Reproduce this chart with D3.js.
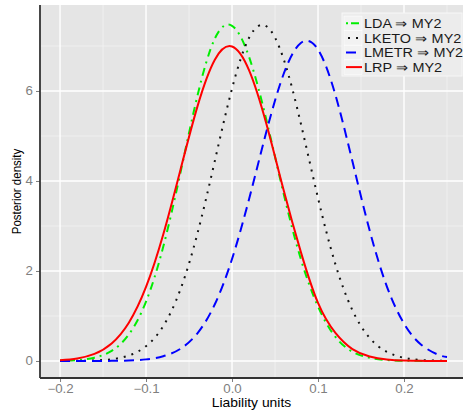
<!DOCTYPE html>
<html>
<head>
<meta charset="utf-8">
<script src="https://cdn.jsdelivr.net/npm/d3@7"></script>
<style>
  body { margin: 0; background: #fff; }
  svg { display: block; }
  text { font-family: "Liberation Sans", Arial, Helvetica, sans-serif; }
</style>
</head>
<body>
<svg id="chart" width="464" height="416"></svg>
<script>
// Posterior density evaluated on a common grid of liability values
const liability = [-0.20, -0.18, -0.16, -0.14, -0.12, -0.10, -0.08, -0.06, -0.04, -0.02,
                    0.00, 0.02, 0.04, 0.06, 0.08, 0.10, 0.12, 0.14, 0.16, 0.18,
                    0.20, 0.22, 0.24, 0.25];
const densityLDA   = [0.005, 0.021, 0.074, 0.225, 0.589, 1.320, 2.537, 4.182, 5.911, 7.164,
                      7.449, 6.746, 5.353, 3.721, 2.266, 1.209, 0.540, 0.205, 0.072, 0.022,
                      0.006, 0.002, 0.000, 0.000];
const densityLKETO = [0.001, 0.003, 0.011, 0.039, 0.121, 0.328, 0.774, 1.590, 2.848, 4.447,
                      6.055, 7.188, 7.438, 6.711, 5.279, 3.620, 2.164, 1.128, 0.513, 0.203,
                      0.070, 0.021, 0.006, 0.003];
const densityLMETR = [0.000, 0.000, 0.001, 0.003, 0.011, 0.036, 0.105, 0.271, 0.621, 1.260,
                      2.267, 3.611, 5.098, 6.377, 7.067, 6.921, 5.927, 4.437, 2.904, 1.660,
                      0.830, 0.362, 0.138, 0.090];
const densityLRP   = [0.018, 0.057, 0.158, 0.390, 0.851, 1.645, 2.811, 4.246, 5.670, 6.696,
                      6.990, 6.453, 5.266, 3.800, 2.425, 1.290, 0.630, 0.265, 0.100, 0.035,
                      0.011, 0.003, 0.001, 0.000];

const seriesNames = ["LDA \u21D2 MY2", "LKETO \u21D2 MY2", "LMETR \u21D2 MY2", "LRP \u21D2 MY2"];
const seriesValues = [densityLDA, densityLKETO, densityLMETR, densityLRP];

const xTicks = [-0.2, -0.1, 0.0, 0.1, 0.2];
const xMinor = [-0.15, -0.05, 0.05, 0.15, 0.25];
const yTicks = [0, 2, 4, 6];
const yMinor = [1, 3, 5, 7];

// Visual encodings per series
const colors = ["#00ee00", "#111111", "#0000ff", "#ff0000"];
const dashes = ["2,5,8,5", "2,6", "10,6", null];
const keyDashes = ["2,3,8,3", "2,6", "10,6", null];
const keyStart = [4, 6, 4, 4];

// Text is drawn slightly widened horizontally
const stretch = 1.11;

const svg = d3.select("#chart");
const panel = { left: 40, right: 463, top: 5, bottom: 378 };

const x = d3.scaleLinear().domain([-0.2233, 0.2686]).range([panel.left, panel.right]);
const y = d3.scaleLinear().domain([-0.378, 7.911]).range([panel.bottom, panel.top]);

// Panel background
svg.append("rect")
  .attr("x", panel.left).attr("y", panel.top)
  .attr("width", panel.right - panel.left).attr("height", panel.bottom - panel.top)
  .attr("fill", "#e5e5e5");

// Grid lines: minor first, then major
const grid = svg.append("g");
grid.selectAll(".xminor").data(xMinor).join("line")
  .attr("x1", d => x(d)).attr("x2", d => x(d))
  .attr("y1", panel.top).attr("y2", panel.bottom)
  .attr("stroke", "#f2f2f2").attr("stroke-width", 0.8);
grid.selectAll(".yminor").data(yMinor).join("line")
  .attr("y1", d => y(d)).attr("y2", d => y(d))
  .attr("x1", panel.left).attr("x2", panel.right)
  .attr("stroke", "#f2f2f2").attr("stroke-width", 0.8);
grid.selectAll(".xmajor").data(xTicks).join("line")
  .attr("x1", d => x(d)).attr("x2", d => x(d))
  .attr("y1", panel.top).attr("y2", panel.bottom)
  .attr("stroke", "#ffffff").attr("stroke-width", 1.4);
grid.selectAll(".ymajor").data(yTicks).join("line")
  .attr("y1", d => y(d)).attr("y2", d => y(d))
  .attr("x1", panel.left).attr("x2", panel.right)
  .attr("stroke", "#ffffff").attr("stroke-width", 1.4);

// Density curves
const line = d3.line()
  .x((d, i) => x(liability[i]))
  .y(d => y(d))
  .curve(d3.curveNatural);

const curves = svg.append("g").attr("fill", "none");
seriesValues.forEach((vals, k) => {
  curves.append("path")
    .attr("d", line(vals))
    .attr("stroke", colors[k])
    .attr("stroke-width", 2)
    .attr("stroke-dasharray", dashes[k]);
});

// Axes
const xAxis = d3.axisBottom(x).tickValues(xTicks).tickFormat(d3.format(".1f")).tickSize(4).tickSizeOuter(0);
const yAxis = d3.axisLeft(y).tickValues(yTicks).tickFormat(d3.format("d")).tickSize(4).tickSizeOuter(0);

const gx = svg.append("g").attr("transform", `translate(0,${panel.bottom})`).call(xAxis);
const gy = svg.append("g").attr("transform", `translate(${panel.left},0)`).call(yAxis);
[gx, gy].forEach(g => {
  g.select(".domain").remove();
  g.selectAll(".tick line").attr("stroke", "#7f7f7f").attr("stroke-width", 1);
  g.selectAll(".tick text").attr("fill", "#7f7f7f").attr("font-size", 12)
    .attr("font-family", "'Liberation Sans', Arial, sans-serif");
});
gx.selectAll(".tick text")
  .attr("y", null).attr("dy", null)
  .attr("transform", `translate(0,15) scale(${stretch},1)`);
gy.selectAll(".tick text")
  .attr("x", null)
  .attr("transform", `translate(-7,0) scale(${stretch},1)`);

// Axis lines along left and bottom of the panel
svg.append("line")
  .attr("x1", panel.left).attr("x2", panel.left)
  .attr("y1", panel.top).attr("y2", panel.bottom)
  .attr("stroke", "#333333").attr("stroke-width", 1.8);
svg.append("line")
  .attr("x1", panel.left).attr("x2", panel.right)
  .attr("y1", panel.bottom).attr("y2", panel.bottom)
  .attr("stroke", "#333333").attr("stroke-width", 1.8);

// Axis titles
svg.append("text")
  .attr("transform", `translate(${(panel.left + panel.right) / 2},407) scale(${stretch},1)`)
  .attr("text-anchor", "middle").attr("font-size", 12.5).attr("fill", "#000")
  .text("Liability units");
svg.append("text")
  .attr("transform", `translate(21,${(panel.top + panel.bottom) / 2}) rotate(-90) scale(1,${stretch})`)
  .attr("text-anchor", "middle").attr("font-size", 11.5).attr("fill", "#000")
  .text("Posterior density");

// Legend
const legend = svg.append("g").attr("transform", "translate(342,13)");
legend.append("rect")
  .attr("width", 120).attr("height", 63)
  .attr("fill", "#ececec").attr("stroke", "#f7f7f7").attr("stroke-width", 1);
const rowH = 14.6;
seriesNames.forEach((name, k) => {
  const cy = 10.3 + k * rowH;
  legend.append("rect")
    .attr("x", 2).attr("y", cy - 7.2).attr("width", 18).attr("height", 14.4)
    .attr("fill", "#f2f2f2").attr("stroke", "#ffffff").attr("stroke-width", 0.5);
  legend.append("line")
    .attr("x1", keyStart[k]).attr("x2", 20).attr("y1", cy).attr("y2", cy)
    .attr("stroke", colors[k]).attr("stroke-width", 2)
    .attr("stroke-dasharray", keyDashes[k]);
  legend.append("text")
    .attr("transform", `translate(22,${cy}) scale(${stretch},1)`)
    .attr("dy", "0.36em")
    .attr("font-size", 13).attr("fill", "#1a1a1a")
    .text(name);
});
</script>
</body>
</html>
